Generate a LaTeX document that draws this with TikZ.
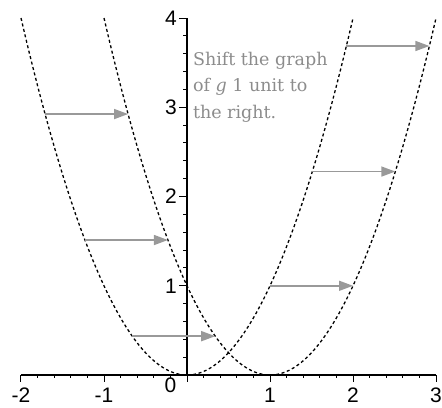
\documentclass[tikz,border=0pt]{standalone}
\usepackage{fontspec}
\setsansfont{Liberation Sans}
\newfontfamily\notefont{DejaVu Serif}
\usetikzlibrary{arrows.meta}

\begin{document}
\begin{tikzpicture}[
  x=83pt, y=89.25pt,
  font=\sffamily,
  axis/.style={line width=1.4pt, black},
  tick/.style={line width=1pt, black},
  curve/.style={line width=1.3pt, black, dash pattern=on 3pt off 2.6pt},
  move/.style={-{Triangle[length=14pt, width=10pt]}, line width=1.5pt, black!40},
  ticklab/.style={font=\sffamily\fontsize{21}{21}\selectfont, inner sep=0pt},
  note/.style={font=\notefont\fontsize{17.5}{26.5}\selectfont, text=black!45,
               align=left, anchor=north west, inner sep=0pt},
]
  \useasboundingbox (-2.253,-0.3585) rectangle (3.072,4.202);

  % axes and ticks
  \draw[axis] (-2,0) -- (3,0);
  \draw[axis] (0,0) -- (0,4);
  \foreach \k in {-10,...,15} \draw[tick] (\k/5,0) -- ++(0,-3pt);
  \foreach \k in {-2,...,3} \draw[tick] (\k,0) -- ++(0,-7pt);
  \foreach \k in {1,...,20} \draw[tick] (0,\k/5) -- ++(-4pt,0);
  \foreach \k in {1,...,4} \draw[tick] (0,\k) -- ++(-8pt,0);

  % tick labels
  \foreach \k in {-2,-1,1,2,3} \node[ticklab] (xl\k) at (\k,-0.23) {\k};
  \node[ticklab] (xl0) at (-0.2,-0.12) {0};
  \foreach \k in {1,...,4} \node[ticklab, anchor=east] (yl\k) at (-0.12,\k) {\k};

  % g(x) and g(x-1)
  \draw[curve] plot[domain=-2:2, samples=80] (\x, {\x*\x});
  \draw[curve] plot[domain=-1:3, samples=80] (\x, {(\x-1)*(\x-1)});

  % shift arrows
  \foreach \a [count=\n] in {-1.71,-1.23,-0.66,1,1.51,1.92} {
    \coordinate (p\n) at (\a, {\a*\a});
    \coordinate (q\n) at (\a+1, {\a*\a});
    \draw[move] (p\n) -- (q\n);
  }

  \node[note] (msg) at (0.07,3.62) {Shift the graph\\ of \textit{g} 1 unit to\\ the right.};
\end{tikzpicture}
\end{document}
